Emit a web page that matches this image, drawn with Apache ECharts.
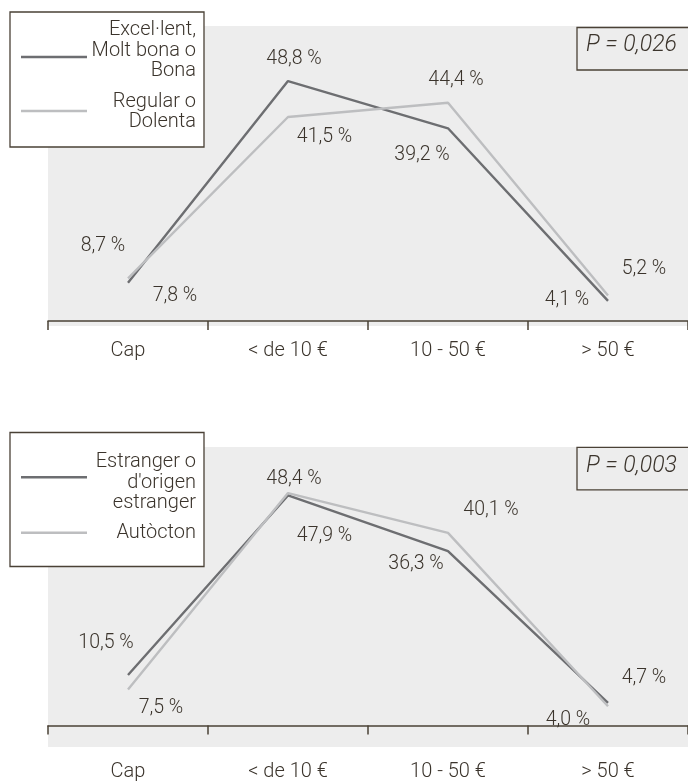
<!DOCTYPE html>
<html>
<head>
<meta charset="utf-8">
<script src="https://cdn.jsdelivr.net/npm/echarts@6/dist/echarts.min.js"></script>
<style>
  html, body { margin: 0; padding: 0; background: #ffffff; }
  #chart { width: 688px; height: 783px; }
</style>
</head>
<body>
<div id="chart"></div>
<script>
// ---- Data ----
const categories = ['Cap', '< de 10 €', '10 - 50 €', '> 50 €'];

const topSeriesNames = ['Excel·lent, Molt bona o Bona', 'Regular o Dolenta'];
const topLegendLines = [['Excel·lent,', 'Molt bona o', 'Bona'], ['Regular o', 'Dolenta']];
const topDark = [7.8, 48.8, 39.2, 4.1];
const topLight = [8.7, 41.5, 44.4, 5.2];
const topP = 'P = 0,026';

const bottomSeriesNames = ["Estranger o d'origen estranger", 'Autòcton'];
const bottomLegendLines = [['Estranger o', "d'origen", 'estranger'], ['Autòcton']];
const bottomDark = [10.5, 47.9, 36.3, 4.7];
const bottomLight = [7.5, 48.4, 40.1, 4.0];
const bottomP = 'P = 0,003';

// ---- Layout / style config (not data) ----
const FONT = 'Roboto, "Liberation Sans", sans-serif';
const TEXT = '#3b342c';
const BORDER = '#4a4136';
const DARK = '#6d6e71';
const LIGHT = '#bdbec0';
const BG = '#ededed';

// label offsets (dx, dy) relative to each point
const offTopDark = [[47, 13], [6, -22], [-26, 27], [-41, -1]];
const offTopLight = [[-25, -32], [36.5, 20.6], [8, -23], [36, -26]];
const offBotDark = [[-22, -32], [36.5, 40.8], [-32, 13.3], [36, -25]];
const offBotLight = [[33, 19], [6, -14], [43, -23], [-40, 14]];

const fmt = v => v.toFixed(1).replace('.', ',') + ' %';

function lineSeries(name, values, offsets, color, gridIdx) {
  return {
    type: 'line',
    name: name,
    xAxisIndex: gridIdx,
    yAxisIndex: gridIdx,
    symbol: 'circle',
    symbolSize: 2,
    itemStyle: { color: 'rgba(0,0,0,0)' },
    lineStyle: { color: color, width: 2.4 },
    animation: false,
    data: values.map((v, i) => ({
      value: v,
      label: {
        show: true,
        position: 'inside',
        offset: offsets[i],
        formatter: p => fmt(p.value),
        fontFamily: FONT,
        fontWeight: 300,
        fontSize: 19.5,
        color: TEXT
      }
    }))
  };
}

function xAxisDef(gridIdx) {
  return {
    type: 'category',
    gridIndex: gridIdx,
    data: categories,
    boundaryGap: true,
    axisLine: { lineStyle: { color: BORDER, width: 1.5 } },
    axisTick: { show: true, length: 9, lineStyle: { color: BORDER, width: 1.5 } },
    axisLabel: { fontFamily: FONT, fontWeight: 300, fontSize: 20, color: TEXT, margin: 15 },
    splitLine: { show: false }
  };
}

function legendGraphics(lines, y0, boxH, lineYs, textYs) {
  const g = [];
  g.push({
    type: 'rect', shape: { x: 10, y: y0, width: 194, height: boxH },
    style: { fill: '#ffffff', stroke: BORDER, lineWidth: 1.3 }, z: 10
  });
  lines.forEach((ls, i) => {
    g.push({
      type: 'line', shape: { x1: 21, y1: lineYs[i], x2: 87, y2: lineYs[i] },
      style: { stroke: i === 0 ? DARK : LIGHT, lineWidth: 2.5 }, z: 11
    });
    g.push({
      type: 'text', x: 196, y: textYs[i], z: 11,
      style: {
        text: ls.join('\n'), align: 'right', verticalAlign: 'middle',
        font: '300 20px ' + FONT, lineHeight: 20.3, fill: TEXT
      }
    });
  });
  return g;
}

function pGraphics(text, y0, textY) {
  return [
    {
      type: 'rect', shape: { x: 577, y: y0, width: 130, height: 42.5 },
      style: { fill: 'rgba(0,0,0,0)', stroke: BORDER, lineWidth: 1.3 }, z: 10
    },
    {
      type: 'text', x: 586, y: textY, z: 11,
      style: {
        text: text, align: 'left', verticalAlign: 'middle',
        font: 'italic 300 23px ' + FONT, fill: TEXT
      }
    }
  ];
}

const chart = echarts.init(document.getElementById('chart'), null, { renderer: 'canvas' });
chart.setOption({
  animation: false,
  backgroundColor: '#ffffff',
  grid: [
    { left: 48, right: 0, top: 26, height: 300, show: true, backgroundColor: BG, borderWidth: 0 },
    { left: 48, right: 0, top: 447, height: 300, show: true, backgroundColor: BG, borderWidth: 0 }
  ],
  xAxis: [xAxisDef(0), xAxisDef(1)],
  yAxis: [
    { type: 'value', gridIndex: 0, min: -1, max: 60, show: false, splitLine: { show: false } },
    { type: 'value', gridIndex: 1, min: -4.5, max: 58, show: false, splitLine: { show: false } }
  ],
  series: [
    lineSeries(topSeriesNames[0], topDark, offTopDark, DARK, 0),
    lineSeries(topSeriesNames[1], topLight, offTopLight, LIGHT, 0),
    lineSeries(bottomSeriesNames[0], bottomDark, offBotDark, DARK, 1),
    lineSeries(bottomSeriesNames[1], bottomLight, offBotLight, LIGHT, 1)
  ],
  graphic: [].concat(
    legendGraphics(topLegendLines, 12, 135, [57, 111], [50.5, 112]),
    legendGraphics(bottomLegendLines, 432.5, 134, [477.3, 532.7], [482.5, 533]),
    pGraphics(topP, 27.5, 45.3),
    pGraphics(bottomP, 447.3, 465.8)
  )
});
</script>
</body>
</html>
